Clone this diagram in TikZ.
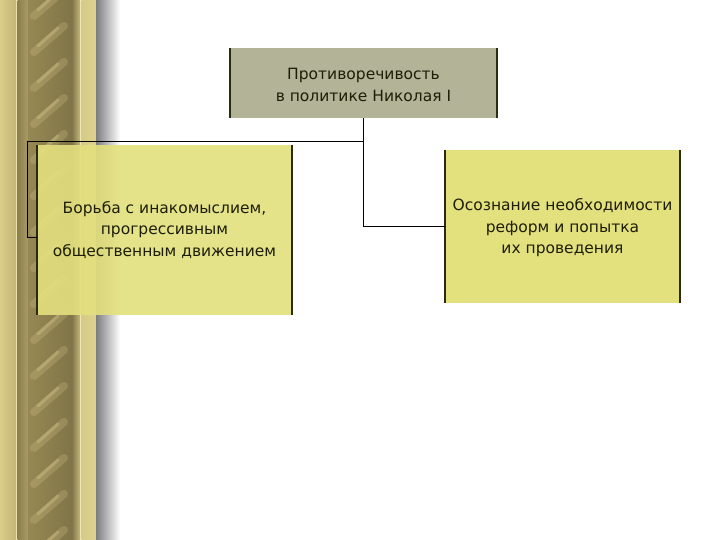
\documentclass[tikz,border=0pt]{standalone}
\usepackage{fontspec}
\setmainfont{DejaVu Sans}
\usetikzlibrary{calc}
\definecolor{topfill}{HTML}{B3B397}
\definecolor{yelfill}{HTML}{E3E07E}
\definecolor{edgedark}{HTML}{2B2A12}
\definecolor{txt}{HTML}{1E1E08}
\definecolor{bgA}{RGB}{217,205,138}
\definecolor{bgB}{RGB}{196,182,118}
\definecolor{bgLine1}{RGB}{236,226,170}
\definecolor{bgC}{RGB}{140,127,78}
\definecolor{bgD}{RGB}{170,156,98}
\definecolor{colL}{RGB}{150,136,84}
\definecolor{colM}{RGB}{224,208,142}
\definecolor{colR}{RGB}{128,117,72}
\definecolor{bgE}{RGB}{130,118,74}
\definecolor{bgF}{RGB}{196,184,122}
\definecolor{bgLine2}{RGB}{240,230,176}
\definecolor{bgG}{RGB}{214,202,136}
\definecolor{bgH}{RGB}{222,210,142}
\definecolor{shadowgray}{RGB}{125,125,128}
\definecolor{streak}{RGB}{246,228,164}
\tikzset{
  boxtext/.style={align=center, text=txt, font=\fontsize{15.5}{21.5}\selectfont, inner sep=0pt},
  sideedge/.style={draw=edgedark, line width=2.4pt},
  connector/.style={draw=black, line width=0.9pt},
}
\begin{document}
\begin{tikzpicture}[x=1pt,y=-1pt]
\useasboundingbox (0,0) rectangle (720,540);
\fill[white] (0,0) rectangle (720,540);
% decorative column background
\shade[left color=bgA, right color=bgB] (0,0) rectangle (16,540);
\fill[bgLine1] (16,0) rectangle (17.5,540);
\shade[left color=bgC, right color=bgD] (17.5,0) rectangle (28,540);
\shade[left color=colL, middle color=colM, right color=colR] (28,0) rectangle (72,540);
\shade[left color=bgE, right color=bgF] (72,0) rectangle (80,540);
\fill[bgLine2] (80,0) rectangle (81.5,540);
\shade[left color=bgG, right color=bgH] (81.5,0) rectangle (96,540);
\shade[left color=shadowgray, right color=white] (96,0) rectangle (120,540);
% diagonal light streaks
\begin{scope}
\clip (30,0) rectangle (70,540);
\foreach \yy in {-10,26,...,560}{
  \draw[line width=8pt, streak, opacity=0.18, line cap=round] (34,\yy+26) -- (64,\yy);
  \draw[line width=3pt, streak, opacity=0.25, line cap=round] (38,\yy+20) -- (58,\yy+2);
}
\end{scope}
% nodes
\node[fill=topfill, minimum width=267pt, minimum height=70pt, inner sep=0pt] (top) at (363.5,83) {};
\node[boxtext] (toptext) at (363.5,85) {Противоречивость\\в политике Николая I};
\node[fill=yelfill, fill opacity=0.9, minimum width=255pt, minimum height=170pt, inner sep=0pt] (left) at (164.5,230) {};
\node[boxtext] (lefttext) at (164.5,230) {Борьба с инакомыслием,\\прогрессивным\\общественным движением};
\node[fill=yelfill, minimum width=235pt, minimum height=153pt, inner sep=0pt] (right) at (562.5,226.5) {};
\node[boxtext] (righttext) at (562.5,228) {Осознание необходимости\\реформ и попытка\\их проведения};
% dark side edges
\draw[sideedge] (top.north west) -- (top.south west);
\draw[sideedge] (top.north east) -- (top.south east);
\draw[sideedge] (left.north west) -- (left.south west);
\draw[sideedge] (left.north east) -- (left.south east);
\draw[sideedge] (right.north west) -- (right.south west);
\draw[sideedge] (right.north east) -- (right.south east);
% connectors
\coordinate (bend) at (27.5,141);
\draw[connector] (top.south) |- (right.west);
\draw[connector] (top.south) |- (bend) |- ([yshift=-7pt]left.west);
\end{tikzpicture}
\end{document}
